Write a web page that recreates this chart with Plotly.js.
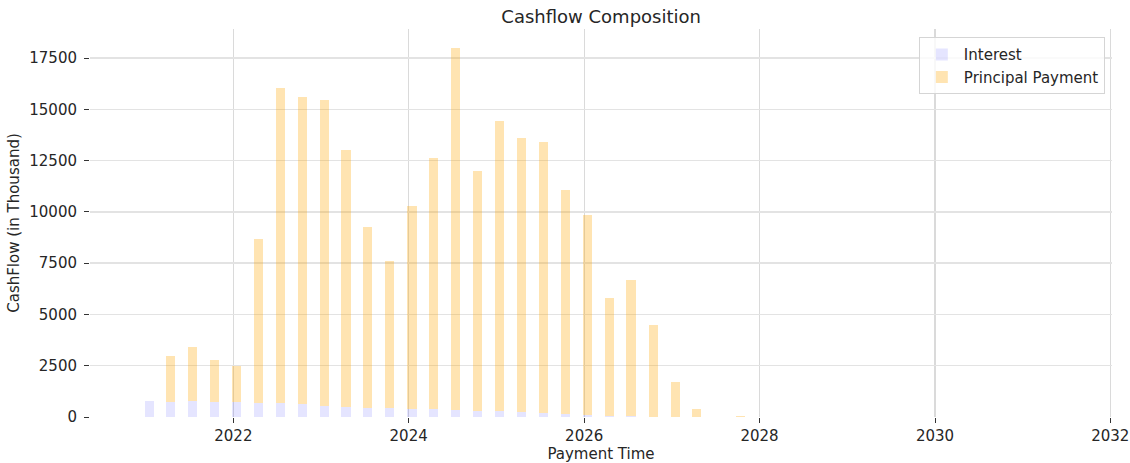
<!DOCTYPE html>
<html>
<head>
<meta charset="utf-8">
<script src="https://cdn.plot.ly/plotly-3.0.1.min.js"></script>
<style>
html,body{margin:0;padding:0;background:#fff;}
#chart{width:1130px;height:463px;}
</style>
</head>
<body>
<div id="chart"></div>
<script>
// Quarterly payment dates
const paymentDates = [
  '2021-01-15','2021-04-15','2021-07-15','2021-10-15',
  '2022-01-15','2022-04-15','2022-07-15','2022-10-15',
  '2023-01-15','2023-04-15','2023-07-15','2023-10-15',
  '2024-01-15','2024-04-15','2024-07-15','2024-10-15',
  '2025-01-15','2025-04-15','2025-07-15','2025-10-15',
  '2026-01-15','2026-04-15','2026-07-15','2026-10-15',
  '2027-01-15','2027-04-15','2027-07-15','2027-10-15'
];
// Interest (in thousand)
const interestValues = [
  780, 710, 770, 710,
  710, 680, 670, 610,
  560, 510, 460, 455,
  405, 405, 360, 310,
  310, 260, 210, 160,
  105, 65, 35, 20,
  10, 5, 0, 0
];
// Principal payment (in thousand)
const principalValues = [
  0, 2275, 2655, 2080,
  1770, 8010, 15375, 15000,
  14900, 12490, 8810, 7135,
  9880, 12225, 17630, 11685,
  14145, 13345, 13200, 10910,
  9740, 5750, 6650, 4465,
  1700, 390, 0, 40
];
const yTickValues = [0, 2500, 5000, 7500, 10000, 12500, 15000, 17500];
const yTickLabels = ['0','2500','5000','7500','10000','12500','15000','17500'];

const barWidthMs = 38 * 24 * 3600 * 1000;
const font = 'DejaVu Sans, sans-serif';

const traces = [
  {
    type: 'bar', name: 'Interest', x: paymentDates, y: interestValues,
    width: barWidthMs,
    marker: {color: 'rgba(0,0,255,0.1)', line: {width: 0}},
    hoverinfo: 'x+y'
  },
  {
    type: 'bar', name: 'Principal Payment', x: paymentDates, y: principalValues,
    width: barWidthMs,
    marker: {color: 'rgba(255,165,0,0.3)', line: {width: 0}},
    hoverinfo: 'x+y'
  }
];

const layout = {
  width: 1130, height: 463,
  barmode: 'stack',
  paper_bgcolor: '#ffffff', plot_bgcolor: '#ffffff',
  margin: {l: 90, r: 18, t: 29, b: 46},
  font: {family: font, size: 15, color: '#262626'},
  title: {text: 'Cashflow Composition', font: {family: font, size: 18, color: '#262626'},
          x: 0.532, xanchor: 'center', y: 0.963, yanchor: 'middle'},
  xaxis: {
    type: 'date',
    range: ['2020-05-14', '2032-01-08'],
    tick0: '2022-01-01', dtick: 'M24', tickformat: '%Y',
    showgrid: true, gridcolor: '#dadada', gridwidth: 1.2,
    showline: false, zeroline: false,
    ticks: 'outside', ticklen: 5, tickcolor: '#333', tickwidth: 1,
    tickfont: {family: font, size: 15, color: '#262626'},
    title: {text: 'Payment Time', font: {family: font, size: 15, color: '#262626'}, standoff: 2}
  },
  yaxis: {
    range: [0, 18921],
    tickmode: 'array', tickvals: yTickValues, ticktext: yTickLabels,
    showgrid: true, gridcolor: '#e3e3e3', gridwidth: 1.5,
    showline: false, zeroline: false,
    ticks: 'outside', ticklen: 5, tickcolor: '#333', tickwidth: 1,
    ticklabelstandoff: 4,
    tickfont: {family: font, size: 15, color: '#262626'},
    title: {text: 'CashFlow (in Thousand)', font: {family: font, size: 15, color: '#262626'}, standoff: 6}
  },
  legend: {
    x: 0.993, y: 0.979, xanchor: 'right', yanchor: 'top',
    bgcolor: 'rgba(255,255,255,0.8)', bordercolor: '#d5d5d5', borderwidth: 1,
    font: {family: font, size: 15, color: '#262626'},
    itemwidth: 34,
    traceorder: 'normal'
  },
  showlegend: true
};

Plotly.newPlot('chart', traces, layout, {displayModeBar: false, staticPlot: true});
</script>
</body>
</html>
